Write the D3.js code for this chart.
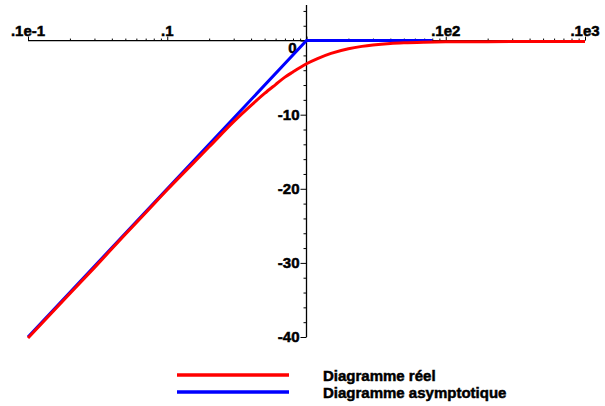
<!DOCTYPE html>
<html>
<head>
<meta charset="utf-8">
<script src="https://cdn.jsdelivr.net/npm/d3@7"></script>
<style>
  body { margin: 0; background: #fff; }
  text { font-family: "Liberation Sans", Arial, sans-serif; font-weight: bold; fill: #000; stroke: #000; stroke-width: 0.5px; }
</style>
</head>
<body>
<div id="chart"></div>
<script>
// Données (pulsation, gain en dB)
const reelW  = [0.01, 0.02, 0.03, 0.05, 0.07, 0.1, 0.15, 0.2, 0.3, 0.4, 0.5, 0.6, 0.7, 0.8, 0.9, 1, 1.2, 1.5, 2, 2.5, 3, 4, 5, 7, 10, 20, 50, 100];
const reelDb = [-40, -34, -30.5, -26, -23.1, -20, -16.6, -14.2, -10.8, -8.6, -7, -5.8, -4.8, -4.1, -3.5, -3, -2.3, -1.6, -0.97, -0.65, -0.46, -0.26, -0.17, -0.09, -0.04, -0.01, 0, 0];
const asymW  = [0.01, 1, 8];
const asymDb = [-40, 0, 0];
const xTickVals = [0.01, 0.1, 10, 100];
const xTickLabels = [".1e-1", ".1", ".1e2", ".1e3"];
const yTickVals = [0, -10, -20, -30, -40];
const legendNames = ["Diagramme réel", "Diagramme asymptotique"];
const colors = ["#ff0000", "#0000ff"];

const W = 605, H = 406;
const svg = d3.select("#chart").append("svg")
    .attr("width", W).attr("height", H);

const xScale = d3.scaleLog().domain([0.01, 100]).range([28, 585]);
const yScale = d3.scaleLinear().domain([-40, 4.8]).range([337, 5]);

// ticks mineurs de l'axe x
let xMinor = [];
[0.01, 0.1, 1, 10].forEach(d => { for (let k = 2; k <= 9; k++) xMinor.push(d * k); });

const y0 = yScale(0);
const x1 = xScale(1);

// Axe X (ticks vers le haut)
const gx = svg.append("g").attr("transform", `translate(0,${y0})`);
gx.call(d3.axisTop(xScale).tickValues(xMinor).tickSize(2).tickFormat(""));
gx.append("g").call(d3.axisTop(xScale).tickValues(xTickVals.concat([1])).tickSize(4).tickFormat(""));
gx.select(".domain").attr("d", `M${xScale(0.01)},0H${xScale(100)}`).attr("stroke-width", 1.3);
gx.selectAll("g g .domain").remove();
gx.selectAll("line").attr("stroke", "#000");
xTickVals.forEach((v, i) => {
    svg.append("text")
        .attr("x", xScale(v)).attr("y", y0 - 5)
        .attr("text-anchor", "middle")
        .attr("font-size", 15)
        .text(xTickLabels[i]);
});

// Axe Y
let yMinor = d3.range(-38, 5, 2).filter(d => d % 10 !== 0);
const gy = svg.append("g").attr("transform", `translate(${x1},0)`);
gy.call(d3.axisLeft(yScale).tickValues(yMinor).tickSize(3).tickFormat(""));
gy.append("g").call(d3.axisLeft(yScale).tickValues(yTickVals).tickSize(6).tickFormat(""));
gy.select(".domain").attr("d", `M0,${yScale(-40)}V${yScale(4.8)}`).attr("stroke-width", 1.3);
gy.selectAll("g g .domain").remove();
yTickVals.forEach(v => {
    svg.append("text")
        .attr("x", x1 + (v === 0 ? -10 : -7))
        .attr("y", v === 0 ? yScale(v) + 12 : yScale(v) + 5)
        .attr("text-anchor", "end")
        .attr("font-size", 15)
        .text(v);
});

const line = d3.line()
    .x(d => xScale(d[0]))
    .y(d => yScale(d[1]));

// asymptotique d'abord, le réel par-dessus
svg.append("path")
    .datum(asymW.map((w, i) => [w, asymDb[i]]))
    .attr("d", line.curve(d3.curveLinear))
    .attr("fill", "none").attr("stroke", colors[1]).attr("stroke-width", 3);

svg.append("path")
    .datum(reelW.map((w, i) => [w, reelDb[i]]))
    .attr("d", line.curve(d3.curveMonotoneX))
    .attr("fill", "none").attr("stroke", colors[0]).attr("stroke-width", 3)
    .attr("transform", "translate(0,1)");

// Légende
legendNames.forEach((nm, i) => {
    const ly = 375 + i * 17;
    svg.append("line")
        .attr("x1", 177).attr("x2", 289)
        .attr("y1", ly).attr("y2", ly)
        .attr("stroke", colors[i]).attr("stroke-width", 3.5);
    svg.append("text")
        .attr("x", 323).attr("y", ly + 6)
        .attr("font-size", 15)
        .text(nm);
});
</script>
</body>
</html>
